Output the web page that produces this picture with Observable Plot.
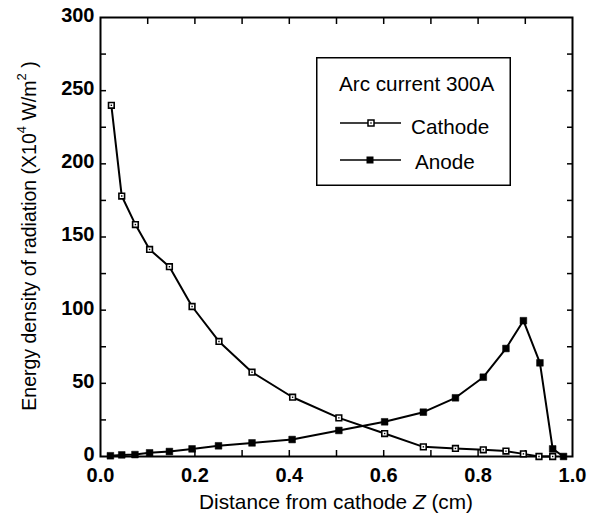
<!DOCTYPE html>
<html><head><meta charset="utf-8">
<script src="https://cdn.jsdelivr.net/npm/d3@7"></script>
<script src="https://cdn.jsdelivr.net/npm/@observablehq/plot@0.6"></script>
<style>
body{margin:0;background:#fff;}
#wrap{position:relative;width:599px;height:520px;font-family:"Liberation Sans",Arial,sans-serif;}
#legend{position:absolute;left:316px;top:57px;width:195px;height:129px;}
</style></head><body><div id="wrap"></div>
<script>
// Data
const cathodeZ = [0.023,0.045,0.074,0.104,0.146,0.194,0.251,0.321,0.407,0.505,0.602,0.684,0.752,0.811,0.859,0.896,0.929,0.958];
const cathodeE = [240,178,158.5,141.5,129.7,102.5,78.6,57.6,40.5,26.4,15.7,6.6,5.5,4.6,3.7,1.8,0,0];
const anodeZ = [0.021,0.045,0.073,0.104,0.146,0.194,0.25,0.321,0.406,0.505,0.602,0.684,0.752,0.811,0.859,0.896,0.931,0.958,0.981];
const anodeE = [0.5,1.1,1.3,2.5,3.4,5.2,7.3,9.3,11.6,17.8,23.7,30.3,40.1,54.2,73.8,92.8,64,5.2,0];
const xTickLabels = [0,0.2,0.4,0.6,0.8,1.0];
const xTickMarks = [0.1,0.2,0.3,0.4,0.5,0.6,0.7,0.8,0.9];
const yTickLabels = [0,50,100,150,200,250,300];
const yTickMarks = [25,50,75,100,125,150,175,200,225,250,275];
const seriesNames = ["Cathode","Anode"];
const legendTitle = "Arc current 300A";

const cathode = cathodeZ.map((z,i)=>({z, e: cathodeE[i]}));
const anode = anodeZ.map((z,i)=>({z, e: anodeE[i]}));

const blank = () => "";
const plot = Plot.plot({
  width: 599, height: 520,
  marginLeft: 100, marginRight: 27, marginTop: 17, marginBottom: 64,
  x: {domain: [0,1]},
  y: {domain: [0,300]},
  style: {fontFamily: '"Liberation Sans", Arial, sans-serif', fontSize: "20px", fontWeight: "bold", color: "#000", background: "#fff"},
  marks: [
    Plot.axisX({ticks: xTickMarks, tickSize: -6, tickFormat: blank, label: null, strokeWidth: 1.5}),
    Plot.axisX({anchor: "top", ticks: xTickMarks, tickSize: -6, tickFormat: blank, label: null, strokeWidth: 1.5}),
    Plot.axisX({ticks: xTickLabels, tickSize: 0, tickPadding: 11, tickFormat: d3.format(".1f"), label: null}),
    Plot.axisY({ticks: yTickMarks, tickSize: -6, tickFormat: blank, label: null, strokeWidth: 1.5}),
    Plot.axisY({anchor: "right", ticks: yTickMarks, tickSize: -6, tickFormat: blank, label: null, strokeWidth: 1.5}),
    Plot.axisY({ticks: yTickLabels, tickSize: 0, tickPadding: 6, dy: -2, label: null}),
    Plot.frame({stroke: "black", strokeWidth: 2}),
    Plot.line(cathode, {x: "z", y: "e", stroke: "black", strokeWidth: 2}),
    Plot.line(anode, {x: "z", y: "e", stroke: "black", strokeWidth: 2}),
    Plot.dot(anode, {x: "z", y: "e", symbol: "square", r: 3.8, fill: "black", stroke: "black", strokeWidth: 0.5}),
    Plot.dot(cathode, {x: "z", y: "e", symbol: "square", r: 3.2, fill: "white", stroke: "black", strokeWidth: 1.6}),
    Plot.dot(cathode, {x: "z", y: "e", symbol: "square", r: 0.8, fill: "black", stroke: "none"})
  ]
});
const wrap = document.getElementById("wrap");
wrap.appendChild(plot);

const svg = d3.select(plot);
// Y axis title
const yt = svg.append("text")
  .attr("transform", "translate(36,236) rotate(-90)")
  .attr("text-anchor", "middle")
  .attr("font-size", 19.5).attr("font-weight", "normal").attr("fill", "black");
yt.append("tspan").text("Energy density of radiation (X10");
yt.append("tspan").attr("font-size", 13).attr("dy", -10).text("4");
yt.append("tspan").attr("dy", 10).text(" W/m");
yt.append("tspan").attr("font-size", 13).attr("dy", -10).text("2");
yt.append("tspan").attr("dy", 10).text(" )");
// X axis title
const xt = svg.append("text")
  .attr("x", 336).attr("y", 509)
  .attr("text-anchor", "middle")
  .attr("font-size", 20.8).attr("font-weight", "normal").attr("fill", "black");
xt.append("tspan").text("Distance from cathode ");
xt.append("tspan").attr("font-style", "italic").text("Z");
xt.append("tspan").text(" (cm)");

// Legend
const leg = document.createElement("div");
leg.id = "legend";
leg.innerHTML = `<svg width="195" height="129" style="font-family:'Liberation Sans',Arial,sans-serif">
  <rect x="0.75" y="0.75" width="193.5" height="127.5" fill="white" stroke="black" stroke-width="1.5"/>
  <text x="23" y="34" font-size="20.7">${legendTitle}</text>
  <line x1="24" x2="85" y1="66" y2="66" stroke="black" stroke-width="1.5"/>
  <rect x="52" y="63" width="6" height="6" fill="white" stroke="black" stroke-width="1.5"/>
  <rect x="54.3" y="65.3" width="1.4" height="1.4" fill="black"/>
  <text x="95" y="77" font-size="20.7">${seriesNames[0]}</text>
  <line x1="24" x2="85" y1="103" y2="103" stroke="black" stroke-width="1.5"/>
  <rect x="50.5" y="99.5" width="7" height="7" fill="black"/>
  <text x="99" y="112" font-size="20.7">${seriesNames[1]}</text>
</svg>`;
wrap.appendChild(leg);
</script>
</body></html>
